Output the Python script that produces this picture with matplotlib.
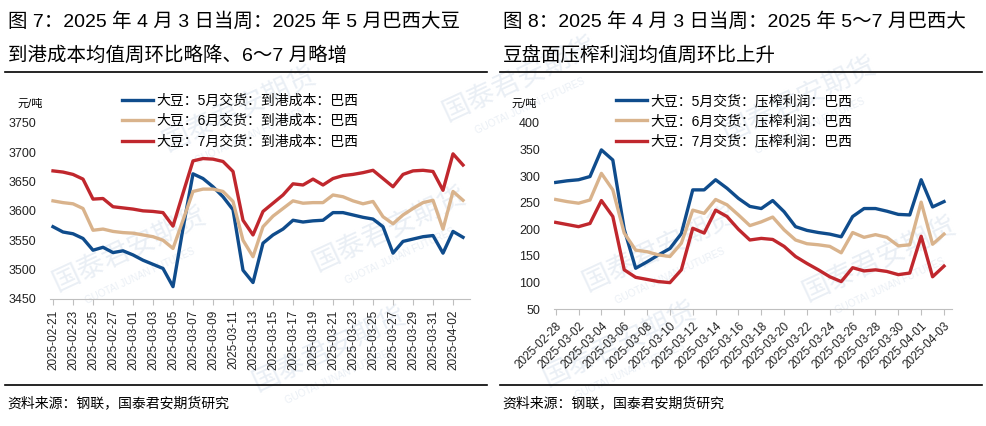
import numpy as np
import pandas as pd
import matplotlib
matplotlib.use('Agg')
import matplotlib.pyplot as plt

plt.rcParams['font.family'] = ['Liberation Sans', 'Noto Sans CJK SC', 'DejaVu Sans']
plt.rcParams['axes.unicode_minus'] = False

# 图7 数据: 到港成本 (元/吨)
dates_cost = pd.date_range('2025-02-21', '2025-04-03', freq='D')
cost_may = [3573, 3564, 3561, 3553, 3533, 3538, 3529, 3532, 3525, 3516,
            3509, 3502, 3471, 3570, 3663, 3655, 3641, 3624, 3602, 3499,
            3478, 3545, 3559, 3569, 3584, 3581, 3583, 3584, 3597, 3597,
            3593, 3589, 3586, 3573, 3528, 3548, 3552, 3556, 3558, 3528,
            3565, 3555]
cost_jun = [3617, 3614, 3612, 3604, 3567, 3569, 3565, 3563, 3562, 3559,
            3556, 3550, 3536, 3584, 3633, 3637, 3637, 3633, 3616, 3550,
            3522, 3573, 3591, 3604, 3617, 3613, 3614, 3614, 3627, 3624,
            3617, 3612, 3616, 3590, 3578, 3593, 3604, 3614, 3618, 3569,
            3633, 3618]
cost_jul = [3668, 3666, 3662, 3654, 3620, 3621, 3607, 3605, 3603, 3600,
            3599, 3597, 3574, 3630, 3685, 3689, 3688, 3684, 3667, 3584,
            3559, 3599, 3613, 3627, 3646, 3644, 3654, 3644, 3655, 3660,
            3662, 3665, 3669, 3655, 3641, 3662, 3668, 3669, 3667, 3635,
            3697, 3678]

# 图8 数据: 压榨利润 (元/吨)
dates_margin = pd.date_range('2025-02-28', '2025-04-03', freq='D')
margin_may = [288, 291, 293, 299, 349, 330, 200, 127, 139, 152,
              164, 192, 274, 274, 293, 277, 258, 243, 239, 254,
              233, 205, 198, 194, 191, 186, 224, 239, 239, 234,
              228, 227, 293, 242, 252]
margin_jun = [256, 252, 249, 255, 305, 274, 193, 161, 158, 152,
              149, 174, 236, 230, 256, 246, 227, 207, 214, 223,
              199, 180, 173, 171, 168, 156, 194, 185, 190, 185,
              169, 171, 251, 172, 191]
margin_jul = [213, 209, 205, 211, 254, 224, 124, 110, 106, 102,
              100, 124, 202, 193, 236, 224, 200, 180, 183, 181,
              168, 149, 136, 124, 111, 102, 128, 122, 124, 121,
              115, 118, 187, 111, 131]

labels_cost = ['大豆：5月交货：到港成本：巴西', '大豆：6月交货：到港成本：巴西', '大豆：7月交货：到港成本：巴西']
labels_margin = ['大豆：5月交货：压榨利润：巴西', '大豆：6月交货：压榨利润：巴西', '大豆：7月交货：压榨利润：巴西']
title_left = ['图 7：2025 年 4 月 3 日当周：2025 年 5 月巴西大豆', '到港成本均值周环比略降、6～7 月略增']
title_right = ['图 8：2025 年 4 月 3 日当周：2025 年 5～7 月巴西大', '豆盘面压榨利润均值周环比上升']
source = '资料来源：钢联，国泰君安期货研究'

colors = ['#0f4c8c', '#d9b38c', '#c0272d']
W, H = 987, 426


def fx(px):
    return px / W


def fy(py):
    return 1 - py / H


fig = plt.figure(figsize=(W / 100, H / 100), dpi=100)

# 水印 (淡色, 在坐标轴之下)
for (x, y) in [(240, 110), (520, 80), (800, 100), (130, 250), (390, 230),
               (660, 250), (880, 260), (330, 350), (620, 345)]:
    fig.text(fx(x), fy(y), '国泰君安期货', fontsize=20, color='#eaeff5', rotation=25,
             ha='center', va='center', zorder=-5)
    fig.text(fx(x + 10), fy(y + 26), 'GUOTAI JUNAN FUTURES', fontsize=7, color='#eaeff5',
             rotation=25, ha='center', va='center', zorder=-5)


def style_axes(ax):
    ax.patch.set_alpha(0)
    for s in ['left', 'right', 'top']:
        ax.spines[s].set_visible(False)
    ax.spines['bottom'].set_color('#bfbfbf')
    ax.tick_params(axis='y', length=0, labelsize=9, pad=10, colors='#222222')
    ax.tick_params(axis='x', length=4, labelsize=8.5, colors='#bfbfbf', labelcolor='#222222')


# 左图
ax1 = fig.add_axes([fx(50), fy(299), fx(420), (299 - 122.7) / H])
x1 = np.arange(len(dates_cost))
for vals, c, lab in zip([cost_may, cost_jun, cost_jul], colors, labels_cost):
    ax1.plot(x1, vals, color=c, lw=2.4, solid_joinstyle='round', label=lab)
ax1.set_ylim(3450, 3750)
ax1.set_yticks(np.arange(3450, 3751, 50))
ax1.set_xlim(-0.3, 41.7)
ax1.set_xticks(x1[::2])
ax1.set_xticklabels([d.strftime('%Y-%m-%d') for d in dates_cost[::2]], rotation=90)
style_axes(ax1)

# 右图
ax2 = fig.add_axes([fx(554), fy(309.3), fx(398), (309.3 - 122.7) / H])
x2 = np.arange(len(dates_margin))
for vals, c, lab in zip([margin_may, margin_jun, margin_jul], colors, labels_margin):
    ax2.plot(x2, vals, color=c, lw=2.4, solid_joinstyle='round', label=lab)
ax2.set_ylim(50, 400)
ax2.set_yticks(np.arange(50, 401, 50))
ax2.set_xlim(-0.15, 34.7)
ax2.set_xticks(x2[::2])
ax2.set_xticklabels([d.strftime('%Y-%m-%d') for d in dates_margin[::2]], rotation=45,
                    ha='right', rotation_mode='anchor')
style_axes(ax2)

# 图例
for ax, x0 in [(ax1, 122), (ax2, 616)]:
    fig.legend(*ax.get_legend_handles_labels(), loc='upper left',
               bbox_to_anchor=(fx(x0), fy(94)), bbox_transform=fig.transFigure,
               frameon=False, fontsize=10, handlelength=2.2, handletextpad=0.3,
               labelspacing=0.45, borderpad=0, borderaxespad=0)

# 单位
fig.text(fx(18), fy(104), '元/吨', fontsize=8, ha='left', va='center')
fig.text(fx(512), fy(104), '元/吨', fontsize=8, ha='left', va='center')

# 标题与分隔线
for x0, lines in [(8, title_left), (503, title_right)]:
    fig.text(fx(x0), fy(22), lines[0], fontsize=14, ha='left', va='center')
    fig.text(fx(x0), fy(55), lines[1], fontsize=14, ha='left', va='center')
    fig.text(fx(x0 - 1), fy(403), source, fontsize=10, ha='left', va='center')
for x0, x1_ in [(5, 487), (500, 982)]:
    for y in [72, 385]:
        fig.add_artist(plt.Line2D([fx(x0), fx(x1_)], [fy(y), fy(y)], color='black', lw=1.2,
                                  transform=fig.transFigure))

fig.savefig('out.png', dpi=100)
